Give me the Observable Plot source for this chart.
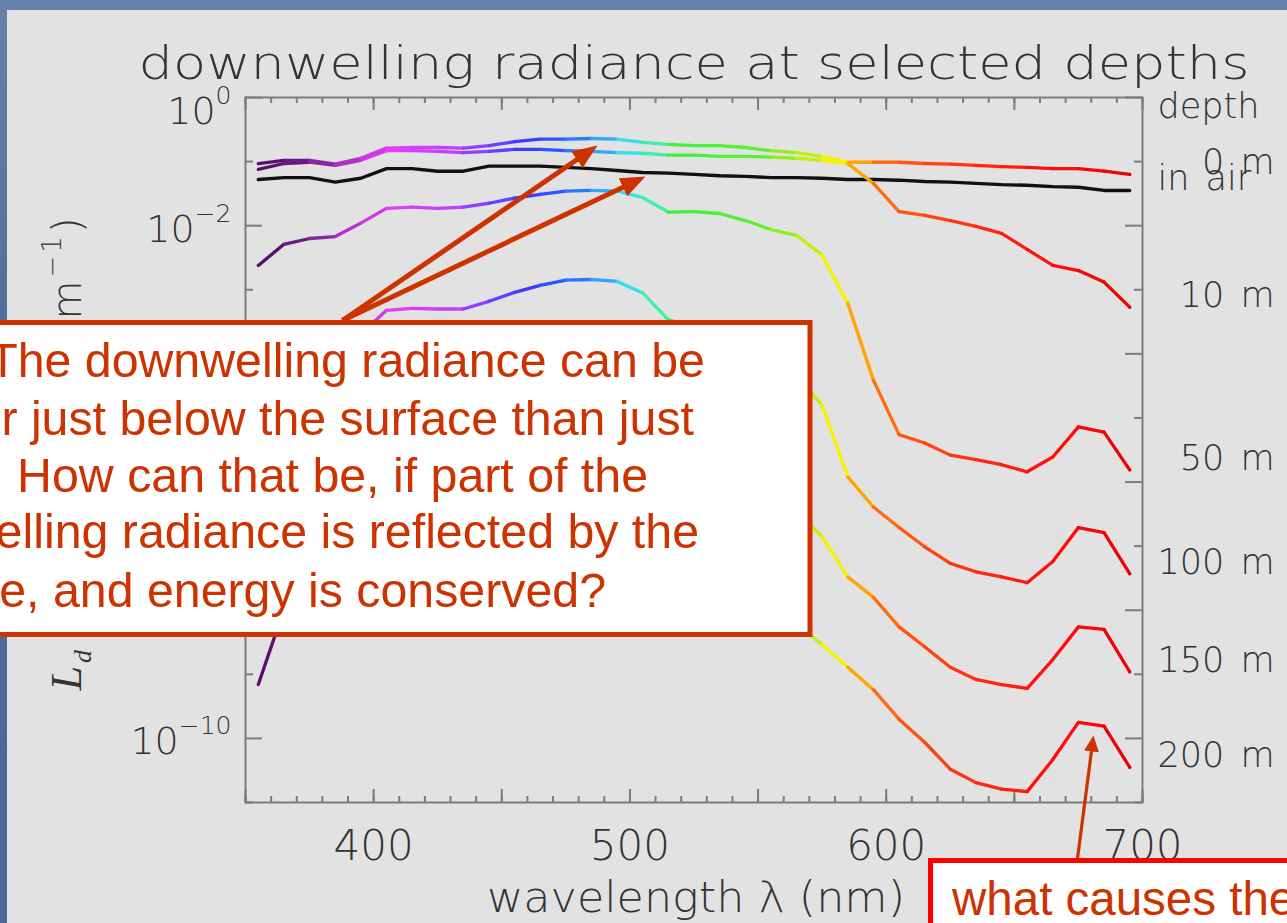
<!DOCTYPE html>
<html>
<head>
<meta charset="utf-8">
<title>downwelling radiance at selected depths</title>
<script src="https://cdn.jsdelivr.net/npm/d3@7"></script>
<script src="https://cdn.jsdelivr.net/npm/@observablehq/plot@0.6"></script>
<style>
  html, body { margin: 0; padding: 0; }
  body { width: 1287px; height: 923px; overflow: hidden; position: relative;
         background: linear-gradient(180deg, #6482aa 0%, #4f6e99 35%, #4a6893 100%); }
  #panel { position: absolute; left: 7px; top: 10px; right: 0; bottom: 0; background: #e2e2e2; }
  #chart { position: absolute; left: 0; top: 0; width: 1287px; height: 923px; }
  #notes { position: absolute; left: 0; top: 0; }
  #notes text { white-space: pre; }
  #chart g[aria-description="depth labels"] text, #chart g[aria-description="depth header"] text { word-spacing: 5px; }
</style>
</head>
<body>
<div id="panel"></div>
<div id="chart"></div>
<svg id="notes" width="1287" height="923" xmlns="http://www.w3.org/2000/svg">
  <rect x="-40" y="322.5" width="850" height="312" fill="#ffffff" stroke="#cc3300" stroke-width="5"/>
  <g font-family="'Liberation Sans', Arial, sans-serif" font-size="48.3" fill="#cc3300" text-anchor="end">
    <text x="705" y="377">The downwelling radiance can be</text>
    <text x="694" y="435">larger just below the surface than just</text>
    <text x="648" y="492">above.  How can that be, if part of the</text>
    <text x="699" y="548">downwelling radiance is reflected by the</text>
    <text x="606" y="607">surface, and energy is conserved?</text>
  </g>
  <rect x="930.5" y="860.5" width="420" height="100" fill="#ffffff" stroke="#ff0000" stroke-width="5"/>
  <text x="952" y="915" font-family="'Liberation Sans', Arial, sans-serif" font-size="47.5" fill="#cc3300">what causes the bump?</text>
</svg>
<script>
// ---------------- data ----------------
const wavelengths = [355,365,375,385,395,405,415,425,435,445,455,465,475,485,495,505,515,525,535,545,555,565,575,585,595,605,615,625,635,645,655,665,675,685,695];

// log10 of downwelling radiance
const log10L_inAir = [-1.28,-1.25,-1.25,-1.32,-1.26,-1.11,-1.11,-1.15,-1.15,-1.07,-1.07,-1.07,-1.09,-1.11,-1.14,-1.17,-1.18,-1.20,-1.22,-1.23,-1.25,-1.25,-1.26,-1.28,-1.28,-1.29,-1.31,-1.32,-1.34,-1.36,-1.37,-1.39,-1.40,-1.45,-1.45];
const log10L_0m   = [-1.03,-0.98,-0.98,-1.04,-0.95,-0.79,-0.78,-0.78,-0.79,-0.75,-0.69,-0.65,-0.65,-0.64,-0.65,-0.70,-0.73,-0.75,-0.75,-0.78,-0.83,-0.86,-0.92,-1.01,-1.01,-1.01,-1.03,-1.04,-1.06,-1.08,-1.09,-1.11,-1.11,-1.15,-1.20];
const log10L_10m  = [-1.12,-1.03,-1.01,-1.06,-0.98,-0.83,-0.83,-0.84,-0.86,-0.84,-0.81,-0.81,-0.83,-0.84,-0.86,-0.87,-0.90,-0.90,-0.92,-0.92,-0.93,-0.95,-0.98,-1.03,-1.34,-1.78,-1.84,-1.92,-2.01,-2.12,-2.37,-2.62,-2.70,-2.88,-3.27];
const log10L_50m  = [-2.62,-2.29,-2.20,-2.17,-1.96,-1.73,-1.71,-1.73,-1.71,-1.65,-1.57,-1.51,-1.46,-1.45,-1.46,-1.56,-1.79,-1.78,-1.81,-1.92,-2.06,-2.15,-2.46,-3.21,-4.41,-5.26,-5.39,-5.58,-5.65,-5.73,-5.84,-5.61,-5.14,-5.22,-5.81];
const log10L_100m = [-5.81,-5.03,-4.49,-4.10,-3.69,-3.32,-3.29,-3.30,-3.30,-3.18,-3.04,-2.93,-2.85,-2.84,-2.87,-3.05,-3.47,-3.57,-3.66,-3.82,-4.03,-4.35,-4.80,-5.92,-6.39,-6.71,-7.01,-7.27,-7.40,-7.48,-7.57,-7.24,-6.71,-6.79,-7.43];
const log10L_150m = [-7.68,-6.90,-6.36,-5.97,-5.58,-5.19,-5.16,-5.16,-5.16,-5.03,-4.91,-4.81,-4.75,-4.75,-4.80,-5.00,-5.42,-5.58,-5.73,-5.93,-6.20,-6.46,-6.85,-7.48,-7.80,-8.26,-8.57,-8.89,-9.08,-9.16,-9.22,-8.77,-8.26,-8.30,-8.96];
const log10L_200m = [-9.16,-7.99,-7.68,-7.45,-7.21,-6.90,-6.84,-6.82,-6.81,-6.67,-6.51,-6.40,-6.32,-6.31,-6.36,-6.56,-6.98,-7.13,-7.29,-7.52,-7.83,-8.22,-8.54,-8.89,-9.24,-9.70,-10.06,-10.48,-10.69,-10.79,-10.83,-10.33,-9.75,-9.81,-10.45];

const airName = "in air";
const depthNames = ["0 m", "10 m", "50 m", "100 m", "150 m", "200 m"];
const depthSeries = [log10L_0m, log10L_10m, log10L_50m, log10L_100m, log10L_150m, log10L_200m];

// axis ticks and labels
const xTickLabels = [400, 500, 600, 700];
const xMajorTicks = [350, 400, 450, 500, 550, 600, 650, 700];
const xMinorTicks = d3.range(350, 701, 10);
const yTickLabels = [1, 1e-2, 1e-4, 1e-6, 1e-8, 1e-10];
const yMajorTicks = [1, 1e-2, 1e-4, 1e-6, 1e-8, 1e-10];
const yMinorTicks = [1e-1, 1e-3, 1e-5, 1e-7, 1e-9, 1e-11];

// rainbow colour table keyed on wavelength (nm)
const spectrumStops  = [355, 365, 375, 385, 395, 405, 425, 440, 455, 470, 485, 495, 505, 515, 545, 560, 575, 585, 595, 610, 640, 670, 695];
const spectrumColors = ["#5a0f6a", "#6c1984", "#8a28a4", "#b030c8", "#d038e8", "#e040f8", "#c040ff", "#7840ff", "#3c3cff", "#2860ff", "#30a8ff", "#34e0e8", "#40f0a8", "#40f040", "#5cf030", "#a8f010", "#f4f400", "#ffa400", "#ff6c10", "#ff4a10", "#ff2010", "#ff0808", "#e00000"];

// annotation arrows (wavelength, log10 radiance)
const questionArrows = [
  {wl1: 387.85, logL1: -3.479, wl2: 487.35, logL2: -0.749},
  {wl1: 387.85, logL1: -3.479, wl2: 506.08, logL2: -1.233}
];
const bumpArrow = [
  {wl1: 674.64, logL1: -11.874, wl2: 680.88, logL2: -9.955}
];

const titleText = "downwelling radiance at selected depths";
const xTitle = "wavelength λ (nm)";

// ---------------- tables ----------------
const underwater = depthNames.flatMap((name, k) =>
  wavelengths.map((wl, i) => ({depth: name, wl, L: 10 ** depthSeries[k][i]})));
const inAir = wavelengths.map((wl, i) => ({wl, L: 10 ** log10L_inAir[i]}));
const last = wavelengths.length - 1;
const endLabels = [
  {label: airName, L: 10 ** log10L_inAir[last]},
  ...depthNames.map((name, k) => ({label: name.padStart(5, "\u2007"), L: 10 ** depthSeries[k][last]}))
];
const expLabel = d => "10^" + String(Math.round(Math.log10(d))).replace("-", "\u2212");

// ---------------- plot ----------------
const W = 1287, H = 923;
const margin = {left: 245, right: 145, top: 97, bottom: 121};
const innerW = W - margin.left - margin.right;
const innerH = H - margin.top - margin.bottom;
const axisGrey = "#7c7c7c";
const ink = "#333333";
const tickStyle = {stroke: axisGrey, strokeWidth: 2};
const thin = {fill: ink, fontWeight: 200};

const chart = Plot.plot({
  width: W, height: H,
  marginLeft: margin.left, marginRight: margin.right, marginTop: margin.top, marginBottom: margin.bottom,
  style: {background: "transparent", fontFamily: "'DejaVu Sans', sans-serif", overflow: "visible"},
  x: {domain: [350, 700], axis: null},
  y: {type: "log", domain: [1e-11, 1], axis: null},
  color: {type: "linear", domain: spectrumStops, range: spectrumColors},
  marks: [
    Plot.tickX(xMinorTicks, {x: d => d, insetTop: innerH - 6, ...tickStyle}),
    Plot.tickX(xMinorTicks, {x: d => d, insetBottom: innerH - 6, ...tickStyle}),
    Plot.tickX(xMajorTicks, {x: d => d, insetTop: innerH - 13, ...tickStyle}),
    Plot.tickX(xMajorTicks, {x: d => d, insetBottom: innerH - 13, ...tickStyle}),
    Plot.tickY(yMinorTicks, {y: d => d, insetRight: innerW - 8, ...tickStyle}),
    Plot.tickY(yMinorTicks, {y: d => d, insetLeft: innerW - 8, ...tickStyle}),
    Plot.tickY(yMajorTicks, {y: d => d, insetRight: innerW - 17, ...tickStyle}),
    Plot.tickY(yMajorTicks, {y: d => d, insetLeft: innerW - 17, ...tickStyle}),
    Plot.frame({stroke: axisGrey, strokeWidth: 2}),
    Plot.line(inAir, {x: "wl", y: "L", stroke: "#111111", strokeWidth: 3.4, strokeLinejoin: "round"}),
    Plot.line(underwater, {x: "wl", y: "L", z: "depth", stroke: "wl", strokeWidth: 3.3, strokeLinejoin: "round", strokeLinecap: "round"}),
    Plot.link(questionArrows, {x1: "wl1", y1: d => 10 ** d.logL1, x2: "wl2", y2: d => 10 ** d.logL2,
      stroke: "#cc3300", strokeWidth: 5, ariaDescription: "question arrows"}),
    Plot.link(bumpArrow, {x1: "wl1", y1: d => 10 ** d.logL1, x2: "wl2", y2: d => 10 ** d.logL2,
      stroke: "#cc3300", strokeWidth: 3.2, ariaDescription: "bump arrow"}),
    Plot.text(xTickLabels, {x: d => d, text: d => String(d), frameAnchor: "bottom", dy: 28, lineAnchor: "top",
      fontSize: 42, ...thin}),
    Plot.text(yTickLabels.slice(0, 1), {y: d => d, text: expLabel, frameAnchor: "left", dx: -14, dy: 26,
      textAnchor: "end", lineAnchor: "bottom", fontSize: 38, ...thin, ariaDescription: "y tick labels"}),
    Plot.text(yTickLabels.slice(1), {y: d => d, text: expLabel, frameAnchor: "left", dx: -14, dy: 16,
      textAnchor: "end", lineAnchor: "bottom", fontSize: 38, ...thin, ariaDescription: "y tick labels"}),
    Plot.text(["depth"], {text: d => d, frameAnchor: "top-right", dx: 15, dy: 20, textAnchor: "start",
      lineAnchor: "bottom", fontSize: 35, ...thin, ariaDescription: "depth header"}),
    Plot.text(endLabels, {y: "L", text: "label", frameAnchor: "right", dx: 15, textAnchor: "start",
      lineAnchor: "bottom", fontSize: 35, ...thin, ariaDescription: "depth labels"}),
    Plot.text([titleText], {text: d => d, frameAnchor: "top", dy: -19, lineAnchor: "bottom",
      fontSize: 47, ...thin, ariaDescription: "title"}),
    Plot.text([xTitle], {text: d => d, frameAnchor: "bottom", dx: 2, dy: 109, lineAnchor: "bottom",
      fontSize: 43, ...thin, ariaDescription: "x title"}),
    Plot.text(["L"], {text: d => d, frameAnchor: "bottom-left", dx: -165, dy: -112, rotate: -90,
      textAnchor: "start", lineAnchor: "bottom", fontSize: 40, ...thin, ariaDescription: "y title"})
  ]
});
document.getElementById("chart").append(chart);

// ---------------- finishing touches ----------------
const svg = d3.select(chart);
const group = name => svg.selectAll(`g[aria-description="${name}"]`);

// superscript exponents on the log axis labels
group("y tick labels").selectAll("text").each(function () {
  const t = d3.select(this);
  const [base, exp] = this.textContent.split("^");
  t.text(null);
  t.append("tspan").text(base);
  t.append("tspan").attr("font-size", 25).attr("dy", -20).text(exp);
});

// stretch the Hershey-like title and axis title
group("title").selectAll("text").attr("textLength", 1111).attr("lengthAdjust", "spacingAndGlyphs");
group("x title").selectAll("text").attr("textLength", 418).attr("lengthAdjust", "spacingAndGlyphs");

// y axis title: L_d (W m^-2 sr^-1 nm^-1)
group("y title").selectAll("text").each(function () {
  const t = d3.select(this);
  t.text(null);
  const parts = [
    {s: "L", fam: "'Liberation Serif', serif", style: "italic", size: 44, dy: 0, weight: 400},
    {s: "d", fam: "'Liberation Serif', serif", style: "italic", size: 26, dy: 10, weight: 400},
    {s: " (W m", size: 40, dy: -10},
    {s: "\u22122", size: 26, dy: -20},
    {s: " sr", size: 40, dy: 20},
    {s: "\u22121", size: 26, dy: -20},
    {s: " nm", size: 40, dy: 20},
    {s: "\u22121", size: 26, dy: -20},
    {s: ")", size: 40, dy: 20}
  ];
  for (const p of parts) {
    const sp = t.append("tspan").attr("font-size", p.size).attr("dy", p.dy).text(p.s);
    if (p.fam) sp.attr("font-family", p.fam);
    if (p.style) sp.attr("font-style", p.style);
    if (p.weight) sp.attr("font-weight", p.weight);
  }
  const natural = this.getComputedTextLength();
  const n = this.textContent.length;
  if (natural < 473) t.attr("letter-spacing", ((473 - natural) / (n - 1)).toFixed(2));
});

// filled arrow heads
const defs = svg.insert("defs", ":first-child");
function head(id, len, wid) {
  defs.append("marker").attr("id", id)
    .attr("viewBox", `0 0 ${len} ${wid}`).attr("refX", len).attr("refY", wid / 2)
    .attr("markerWidth", len).attr("markerHeight", wid)
    .attr("markerUnits", "userSpaceOnUse").attr("orient", "auto")
    .append("path").attr("d", `M0,0L${len},${wid / 2}L0,${wid}Z`).attr("fill", "#cc3300");
}
head("head-big", 25, 20);
head("head-small", 16, 15);
function arrowize(name, id, pullBack) {
  group(name).selectAll("path").each(function () {
    const L = this.getTotalLength();
    d3.select(this).attr("stroke-dasharray", `${(L - pullBack).toFixed(1)} ${L.toFixed(1)}`)
      .attr("marker-end", `url(#${id})`);
  });
}
arrowize("question arrows", "head-big", 12);
arrowize("bump arrow", "head-small", 8);
</script>
</body>
</html>
